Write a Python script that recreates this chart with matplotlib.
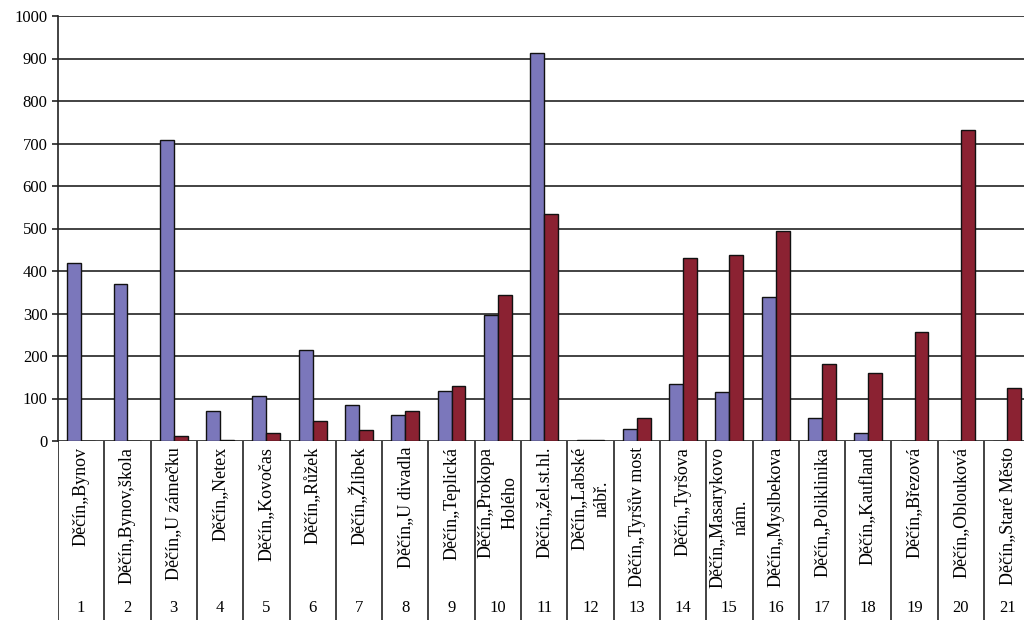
import numpy as np
import matplotlib
matplotlib.use("Agg")
import matplotlib.pyplot as plt

plt.rcParams['font.family'] = ['Liberation Serif', 'DejaVu Serif']

# zastávky
stops = ["Děčín„Bynov", "Děčín,Bynov,škola", "Děčín„U zámečku", "Děčín„Netex",
         "Děčín„Kovočas", "Děčín„Růžek", "Děčín„Žlíbek", "Děčín„U divadla",
         "Děčín„Teplická", "Děčín„Prokopa\nHolého", "Děčín„žel.st.hl.",
         "Děčín„Labské\nnábř.", "Děčín„Tyršův most", "Děčín„Tyršova",
         "Děčín„Masarykovo\nnám.", "Děčín„Myslbekova", "Děčín„Poliklinika",
         "Děčín„Kaufland", "Děčín„Březová", "Děčín„Oblouková", "Děčín„Staré Město"]
numbers = [str(i) for i in range(1, 22)]
series_a = [419, 370, 709, 70, 107, 213, 85, 62, 118, 297, 913, 2, 28, 135, 115,
            340, 55, 20, 0, 0, 0]
series_b = [0, 0, 12, 3, 20, 46, 27, 70, 130, 344, 535, 3, 55, 430, 438,
            494, 182, 160, 257, 731, 125]

W, H = 1024, 634
fig = plt.figure(figsize=(W / 100, H / 100), dpi=100)

x = np.arange(1, len(stops) + 1)
cat_w = 46.3
x_left = 58
xmax = 0.5 + (W - x_left) / cat_w

# graf
ax = fig.add_axes([x_left / W, 1 - 441 / H, (W - x_left) / W, (441 - 16) / H])
bw = 0.3
ax.bar(x - bw / 2, series_a, bw, color='#7B77BB', edgecolor='#111111', linewidth=1, zorder=3)
ax.bar(x + bw / 2, series_b, bw, color='#8B2232', edgecolor='#111111', linewidth=1, zorder=3)
ax.set_xlim(0.5, xmax)
ax.set_ylim(0, 1000)
ax.set_yticks(np.arange(0, 1001, 100))
ax.yaxis.grid(True, color='#222222', linewidth=1.2)
ax.set_axisbelow(True)
ax.set_xticks([])
for s in ['top', 'right', 'bottom']:
    ax.spines[s].set_visible(False)
ax.spines['left'].set_linewidth(1.2)
ax.spines['left'].set_color('#222222')
ax.tick_params(axis='y', labelsize=12, length=4, width=1.2, color='#222222')

# tabulka pod grafem
tb = fig.add_axes([x_left / W, 1 - 620 / H, (W - x_left) / W, (620 - 441) / H])
tb.set_xlim(0.5, xmax)
tb.set_ylim(0, 179)
tb.axis('off')
tb.vlines(np.arange(0.5, len(stops) + 1, 1), 0, 179, color='#222222', linewidth=1.2)
for xi, lab, num in zip(x, stops, numbers):
    tb.text(xi, 173, lab, rotation=90, ha='center', va='top', fontsize=13,
            multialignment='center', linespacing=1.5)
    tb.text(xi, 12, num, ha='center', va='center', fontsize=12)

fig.savefig("out.png", dpi=100)
